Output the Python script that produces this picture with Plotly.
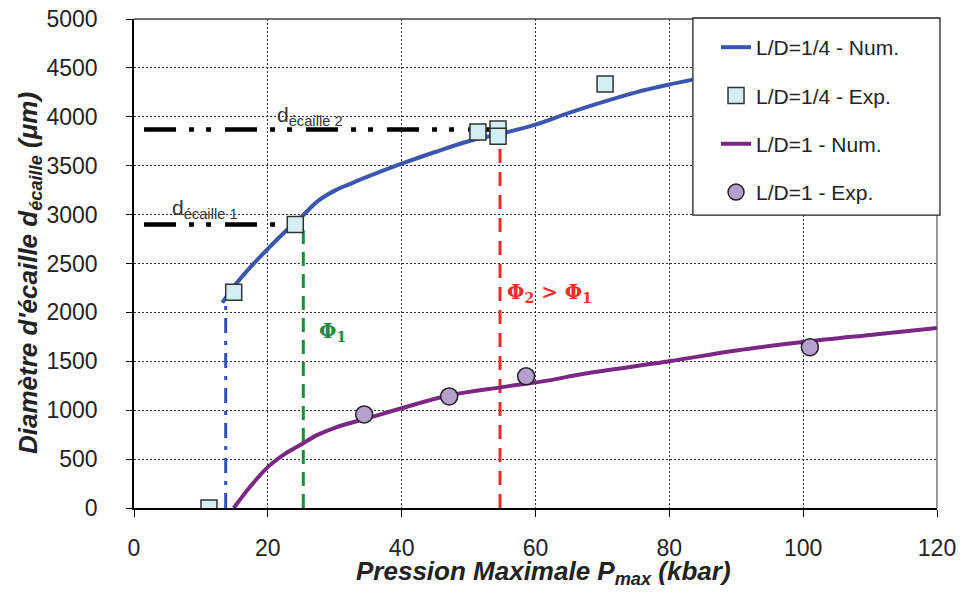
import plotly.graph_objects as go

# ---- data ----
num14_x = [13.2, 15, 17.5, 20, 22.5, 25, 27.5, 30, 32.5, 35, 40, 45, 50, 55, 60, 65, 70, 75, 80, 83.5]
num14_y = [2100, 2270, 2470, 2650, 2820, 2975, 3140, 3245, 3320, 3390, 3520, 3640, 3750, 3830, 3920, 4040, 4150, 4250, 4330, 4380]

exp14_x = [11.2, 14.9, 24.1, 51.4, 54.4, 54.4, 70.4]
exp14_y = [0, 2205, 2900, 3845, 3875, 3800, 4335]

num1_x = [14.9, 17.5, 20, 22.5, 25, 27.5, 30, 35, 40, 47, 55, 62, 67, 80, 90, 100, 110, 120]
num1_y = [0, 230, 418, 550, 650, 750, 820, 920, 1020, 1150, 1236, 1305, 1370, 1500, 1610, 1697, 1770, 1840]

exp1_x = [34.4, 47.1, 58.6, 101]
exp1_y = [957, 1141, 1346, 1643]

d2_x = [1.5, 54.5]
d2_y = [3870, 3870]
d1_x = [1.5, 23.5]
d1_y = [2900, 2900]

phi0_x = [13.7, 13.7]
phi0_y = [0, 2100]
phi1_x = [25.3, 25.3]
phi1_y = [0, 2900]
phi2_x = [54.7, 54.7]
phi2_y = [0, 3850]

x_ticks = [0, 20, 40, 60, 80, 100, 120]
y_ticks = [0, 500, 1000, 1500, 2000, 2500, 3000, 3500, 4000, 4500, 5000]

FONT = "Liberation Sans, Arial, sans-serif"
BLUE = "#3b57ad"
PURPLE = "#7a2884"

fig = go.Figure()

# reference lines (no legend)
fig.add_trace(go.Scatter(x=d2_x, y=d2_y, mode="lines", showlegend=False, hoverinfo="skip",
                         line=dict(color="black", width=4.5, dash="32px,13px,5px,12px,5px,14px")))
fig.add_trace(go.Scatter(x=d1_x, y=d1_y, mode="lines", showlegend=False, hoverinfo="skip",
                         line=dict(color="black", width=4.5, dash="32px,13px,5px,12px,5px,14px")))
fig.add_trace(go.Scatter(x=phi0_x, y=phi0_y, mode="lines", showlegend=False, hoverinfo="skip",
                         line=dict(color="#2f4fc0", width=3, dash="15px,8px,4px,8px")))
fig.add_trace(go.Scatter(x=phi1_x, y=phi1_y, mode="lines", showlegend=False, hoverinfo="skip",
                         line=dict(color="#1d8a40", width=3, dash="14px,8px")))
fig.add_trace(go.Scatter(x=phi2_x, y=phi2_y, mode="lines", showlegend=False, hoverinfo="skip",
                         line=dict(color="#ee2e2a", width=3, dash="14px,9px")))

# series
fig.add_trace(go.Scatter(x=num14_x, y=num14_y, mode="lines", name="L/D=1/4 - Num.",
                         legendgroup="a", line=dict(color=BLUE, width=4, shape="spline")))
fig.add_trace(go.Scatter(x=exp14_x, y=exp14_y, mode="markers", name="L/D=1/4 - Exp.",
                         legendgroup="b",
                         marker=dict(symbol="square", size=16, color="#d3eff4",
                                     line=dict(color="#333333", width=1.5))))
fig.add_trace(go.Scatter(x=num1_x, y=num1_y, mode="lines", name="L/D=1 - Num.",
                         legendgroup="c", line=dict(color=PURPLE, width=4, shape="spline")))
fig.add_trace(go.Scatter(x=exp1_x, y=exp1_y, mode="markers", name="L/D=1 - Exp.",
                         legendgroup="d",
                         marker=dict(symbol="circle", size=17, color="#b49fcd",
                                     line=dict(color="#222222", width=1.5))))

annotations = [
    dict(x=21.1, y=4010, text="d<sub>écaille 2</sub>", showarrow=False, xanchor="left", yanchor="middle",
         font=dict(family=FONT, size=21, color="#333333")),
    dict(x=5.4, y=3060, text="d<sub>écaille 1</sub>", showarrow=False, xanchor="left", yanchor="middle",
         font=dict(family=FONT, size=21, color="#333333")),
    dict(x=27.4, y=1800, text="<b>Φ<sub>1</sub></b>", showarrow=False, xanchor="left", yanchor="middle",
         font=dict(family="DejaVu Serif, serif", size=20, color="#1d8a40")),
    dict(x=55.4, y=2200, text="<b>Φ<sub>2</sub> > Φ<sub>1</sub></b>", showarrow=False, xanchor="left",
         yanchor="middle", font=dict(family="DejaVu Serif, serif", size=20, color="#ee2e2a")),
    # axis titles
    dict(xref="paper", yref="paper", x=0.51, y=-0.131, xanchor="center", yanchor="middle",
         text="<b><i>Pression Maximale P<sub>max</sub> (kbar)</i></b>", showarrow=False,
         font=dict(family=FONT, size=26, color="#222222")),
    dict(xref="paper", yref="paper", x=-0.1295, y=0.4806, xanchor="center", yanchor="middle",
         textangle=-90, text="<b><i>Diamètre d'écaille d<sub>écaille</sub> (μm)</i></b>", showarrow=False,
         font=dict(family=FONT, size=26, color="#222222")),
]

shapes = [
    dict(type="line", xref="paper", yref="paper", x0=0, x1=1, y0=1, y1=1,
         line=dict(color="#444444", width=1.3)),
    dict(type="line", xref="paper", yref="paper", x0=1, x1=1, y0=0, y1=1,
         line=dict(color="#555555", width=1.2)),
    # legend frame
    dict(type="rect", xref="paper", yref="paper", x0=0.696, x1=1.0037, y0=0.599, y1=1.002,
         layer="above", fillcolor="white", line=dict(color="#222222", width=1.3)),
]

# page body has an 8px margin; figure size/margins compensate for it
fig.update_layout(
    width=958, height=584,
    margin=dict(l=126, r=29, t=11, b=84, autoexpand=False),
    paper_bgcolor="white", plot_bgcolor="white",
    font=dict(family=FONT, color="#222222"),
    showlegend=True,
    legend=dict(x=0.7024, y=0.9836, xanchor="left", yanchor="top",
                bgcolor="rgba(0,0,0,0)", borderwidth=0,
                font=dict(family=FONT, size=21, color="#222222"),
                traceorder="grouped", tracegroupgap=18, indentation=18),
    annotations=annotations,
    shapes=shapes,
    xaxis=dict(range=[0, 120], tickvals=x_ticks, ticktext=[str(v) for v in x_ticks],
               automargin=False, ticklabeloverflow="allow",
               showgrid=True, gridcolor="#333333", griddash="2px,2px", gridwidth=1,
               zeroline=False, showline=True, linecolor="black", linewidth=1.5,
               ticks="outside", ticklen=7, tickcolor="black", ticklabelstandoff=12,
               tickfont=dict(family=FONT, size=23, color="#222222")),
    yaxis=dict(range=[0, 5000], tickvals=y_ticks, ticktext=[str(v) for v in y_ticks],
               automargin=False, ticklabeloverflow="allow",
               showgrid=True, gridcolor="#333333", griddash="2px,2px", gridwidth=1,
               zeroline=False, showline=True, linecolor="black", linewidth=1.5,
               ticks="outside", ticklen=6, tickcolor="black", ticklabelstandoff=24,
               tickfont=dict(family=FONT, size=23, color="#222222")),
)

fig.write_html("out.html")
